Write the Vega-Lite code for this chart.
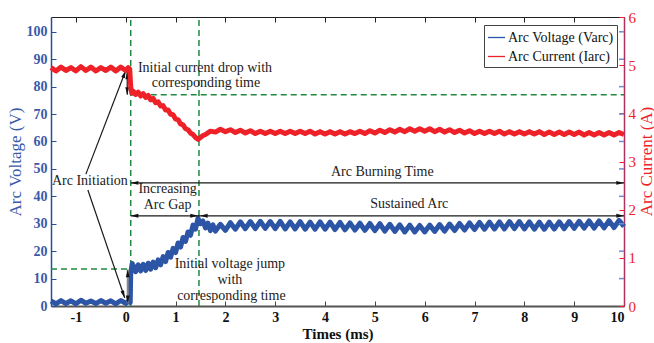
{
  "$schema": "https://vega.github.io/schema/vega-lite/v6.json",
  "width": 573,
  "height": 289,
  "autosize": {"type": "none"},
  "padding": {"left": 51, "top": 17, "right": 30, "bottom": 37},
  "background": "white",
  "config": {
    "view": {"stroke": null},
    "font": "Liberation Serif",
    "axis": {"grid": false, "labelFont": "Liberation Serif", "titleFont": "Liberation Serif", "titleFontWeight": "normal", "labelOverlap": false}
  },
  "datasets": {
    "volt": [
      {"t": -1.5, "v": 1.8}, {"t": -1.4, "v": 0.8}, {"t": -1.3, "v": 2.0}, {"t": -1.2, "v": 0.9}, {"t": -1.1, "v": 1.9}, {"t": -1.0, "v": 0.8},
      {"t": -0.9, "v": 2.1}, {"t": -0.8, "v": 1.0}, {"t": -0.7, "v": 1.8}, {"t": -0.6, "v": 0.9}, {"t": -0.5, "v": 2.0}, {"t": -0.4, "v": 1.0},
      {"t": -0.3, "v": 1.9}, {"t": -0.2, "v": 0.8}, {"t": -0.1, "v": 2.0}, {"t": 0.0, "v": 1.0}, {"t": 0.05, "v": 1.8}, {"t": 0.09, "v": 1.3},
      {"t": 0.1, "v": 12.0}, {"t": 0.13, "v": 15.5}, {"t": 0.2, "v": 12.5}, {"t": 0.25, "v": 15.0}, {"t": 0.3, "v": 12.8}, {"t": 0.35, "v": 15.2},
      {"t": 0.4, "v": 13.0}, {"t": 0.45, "v": 15.6}, {"t": 0.5, "v": 13.4}, {"t": 0.55, "v": 16.0}, {"t": 0.6, "v": 14.0}, {"t": 0.65, "v": 16.8},
      {"t": 0.7, "v": 15.0}, {"t": 0.75, "v": 18.0}, {"t": 0.8, "v": 16.2}, {"t": 0.85, "v": 19.5}, {"t": 0.9, "v": 17.8}, {"t": 0.95, "v": 21.0},
      {"t": 1.0, "v": 19.5}, {"t": 1.05, "v": 23.0}, {"t": 1.1, "v": 21.5}, {"t": 1.15, "v": 25.0}, {"t": 1.2, "v": 23.6}, {"t": 1.25, "v": 27.0},
      {"t": 1.3, "v": 25.8}, {"t": 1.35, "v": 29.5}, {"t": 1.4, "v": 28.0}, {"t": 1.45, "v": 32.0}, {"t": 1.5, "v": 30.0}, {"t": 1.55, "v": 31.0},
      {"t": 1.6, "v": 28.5}, {"t": 1.65, "v": 30.2}, {"t": 1.7, "v": 27.5}, {"t": 1.75, "v": 29.6}, {"t": 1.8, "v": 27.3}, {"t": 1.9, "v": 29.8},
      {"t": 2.0, "v": 27.6}, {"t": 2.1, "v": 30.4}, {"t": 2.2, "v": 28.0}, {"t": 2.3, "v": 30.7}, {"t": 2.4, "v": 28.2}, {"t": 2.5, "v": 30.8},
      {"t": 2.6, "v": 28.2}, {"t": 2.7, "v": 30.9}, {"t": 2.8, "v": 28.3}, {"t": 2.9, "v": 30.8}, {"t": 3.0, "v": 28.2}, {"t": 3.1, "v": 30.9},
      {"t": 3.2, "v": 28.1}, {"t": 3.3, "v": 30.7}, {"t": 3.4, "v": 28.1}, {"t": 3.5, "v": 30.8}, {"t": 3.6, "v": 28.0}, {"t": 3.7, "v": 30.6},
      {"t": 3.8, "v": 28.0}, {"t": 3.9, "v": 30.7}, {"t": 4.0, "v": 28.0}, {"t": 4.1, "v": 30.6}, {"t": 4.2, "v": 27.9}, {"t": 4.3, "v": 30.5},
      {"t": 4.4, "v": 27.8}, {"t": 4.5, "v": 30.3}, {"t": 4.6, "v": 27.7}, {"t": 4.7, "v": 30.2}, {"t": 4.8, "v": 27.6}, {"t": 4.9, "v": 30.1},
      {"t": 5.0, "v": 27.5}, {"t": 5.1, "v": 30.0}, {"t": 5.2, "v": 27.3}, {"t": 5.3, "v": 29.8}, {"t": 5.4, "v": 27.2}, {"t": 5.5, "v": 29.6},
      {"t": 5.6, "v": 27.0}, {"t": 5.7, "v": 29.5}, {"t": 5.8, "v": 27.0}, {"t": 5.9, "v": 29.4}, {"t": 6.0, "v": 27.0}, {"t": 6.1, "v": 29.5},
      {"t": 6.2, "v": 27.2}, {"t": 6.3, "v": 29.7}, {"t": 6.4, "v": 27.3}, {"t": 6.5, "v": 29.9}, {"t": 6.6, "v": 27.5}, {"t": 6.7, "v": 30.1},
      {"t": 6.8, "v": 27.7}, {"t": 6.9, "v": 30.3}, {"t": 7.0, "v": 27.9}, {"t": 7.1, "v": 30.5}, {"t": 7.2, "v": 28.0}, {"t": 7.3, "v": 30.6},
      {"t": 7.4, "v": 28.1}, {"t": 7.5, "v": 30.7}, {"t": 7.6, "v": 28.1}, {"t": 7.7, "v": 30.8}, {"t": 7.8, "v": 28.2}, {"t": 7.9, "v": 30.8},
      {"t": 8.0, "v": 28.1}, {"t": 8.1, "v": 30.7}, {"t": 8.2, "v": 28.0}, {"t": 8.3, "v": 30.6}, {"t": 8.4, "v": 28.0}, {"t": 8.5, "v": 30.6},
      {"t": 8.6, "v": 28.1}, {"t": 8.7, "v": 30.7}, {"t": 8.8, "v": 28.2}, {"t": 8.9, "v": 30.8}, {"t": 9.0, "v": 28.3}, {"t": 9.1, "v": 30.9},
      {"t": 9.2, "v": 28.4}, {"t": 9.3, "v": 31.0}, {"t": 9.4, "v": 28.4}, {"t": 9.5, "v": 31.0}, {"t": 9.6, "v": 28.5}, {"t": 9.7, "v": 31.1},
      {"t": 9.8, "v": 28.6}, {"t": 9.9, "v": 31.2}, {"t": 10.0, "v": 29.0}
    ],
    "curr": [
      {"t": -1.5, "i": 4.95}, {"t": -1.4, "i": 4.88}, {"t": -1.3, "i": 4.96}, {"t": -1.2, "i": 4.89}, {"t": -1.1, "i": 4.95}, {"t": -1.0, "i": 4.88},
      {"t": -0.9, "i": 4.97}, {"t": -0.8, "i": 4.89}, {"t": -0.7, "i": 4.96}, {"t": -0.6, "i": 4.88}, {"t": -0.5, "i": 4.95}, {"t": -0.4, "i": 4.89},
      {"t": -0.3, "i": 4.96}, {"t": -0.2, "i": 4.88}, {"t": -0.1, "i": 4.96}, {"t": 0.0, "i": 4.89}, {"t": 0.05, "i": 4.95}, {"t": 0.08, "i": 4.92},
      {"t": 0.1, "i": 4.55}, {"t": 0.12, "i": 4.42}, {"t": 0.15, "i": 4.46}, {"t": 0.2, "i": 4.39}, {"t": 0.25, "i": 4.44}, {"t": 0.3, "i": 4.36},
      {"t": 0.35, "i": 4.41}, {"t": 0.4, "i": 4.33}, {"t": 0.45, "i": 4.37}, {"t": 0.5, "i": 4.28}, {"t": 0.55, "i": 4.31}, {"t": 0.6, "i": 4.22},
      {"t": 0.65, "i": 4.24}, {"t": 0.7, "i": 4.15}, {"t": 0.75, "i": 4.16}, {"t": 0.8, "i": 4.07}, {"t": 0.85, "i": 4.07}, {"t": 0.9, "i": 3.98},
      {"t": 0.95, "i": 3.97}, {"t": 1.0, "i": 3.88}, {"t": 1.05, "i": 3.87}, {"t": 1.1, "i": 3.78}, {"t": 1.15, "i": 3.76}, {"t": 1.2, "i": 3.68},
      {"t": 1.25, "i": 3.66}, {"t": 1.3, "i": 3.59}, {"t": 1.35, "i": 3.56}, {"t": 1.4, "i": 3.5}, {"t": 1.45, "i": 3.46}, {"t": 1.5, "i": 3.5},
      {"t": 1.55, "i": 3.54}, {"t": 1.6, "i": 3.56}, {"t": 1.7, "i": 3.63}, {"t": 1.8, "i": 3.61}, {"t": 1.9, "i": 3.67}, {"t": 2.0, "i": 3.62},
      {"t": 2.1, "i": 3.66}, {"t": 2.2, "i": 3.6}, {"t": 2.3, "i": 3.65}, {"t": 2.4, "i": 3.59}, {"t": 2.5, "i": 3.64}, {"t": 2.6, "i": 3.58},
      {"t": 2.7, "i": 3.63}, {"t": 2.8, "i": 3.58}, {"t": 2.9, "i": 3.63}, {"t": 3.0, "i": 3.58}, {"t": 3.1, "i": 3.63}, {"t": 3.2, "i": 3.58},
      {"t": 3.3, "i": 3.63}, {"t": 3.4, "i": 3.58}, {"t": 3.5, "i": 3.63}, {"t": 3.6, "i": 3.58}, {"t": 3.7, "i": 3.63}, {"t": 3.8, "i": 3.57},
      {"t": 3.9, "i": 3.62}, {"t": 4.0, "i": 3.57}, {"t": 4.1, "i": 3.62}, {"t": 4.2, "i": 3.57}, {"t": 4.3, "i": 3.62}, {"t": 4.4, "i": 3.57},
      {"t": 4.5, "i": 3.62}, {"t": 4.6, "i": 3.58}, {"t": 4.7, "i": 3.63}, {"t": 4.8, "i": 3.58}, {"t": 4.9, "i": 3.64}, {"t": 5.0, "i": 3.59},
      {"t": 5.1, "i": 3.65}, {"t": 5.2, "i": 3.6}, {"t": 5.3, "i": 3.66}, {"t": 5.4, "i": 3.61}, {"t": 5.5, "i": 3.67}, {"t": 5.6, "i": 3.62},
      {"t": 5.7, "i": 3.68}, {"t": 5.8, "i": 3.63}, {"t": 5.9, "i": 3.68}, {"t": 6.0, "i": 3.63}, {"t": 6.1, "i": 3.68}, {"t": 6.2, "i": 3.62},
      {"t": 6.3, "i": 3.67}, {"t": 6.4, "i": 3.61}, {"t": 6.5, "i": 3.66}, {"t": 6.6, "i": 3.6}, {"t": 6.7, "i": 3.65}, {"t": 6.8, "i": 3.59},
      {"t": 6.9, "i": 3.64}, {"t": 7.0, "i": 3.58}, {"t": 7.1, "i": 3.63}, {"t": 7.2, "i": 3.58}, {"t": 7.3, "i": 3.63}, {"t": 7.4, "i": 3.58},
      {"t": 7.5, "i": 3.63}, {"t": 7.6, "i": 3.57}, {"t": 7.7, "i": 3.62}, {"t": 7.8, "i": 3.57}, {"t": 7.9, "i": 3.62}, {"t": 8.0, "i": 3.57},
      {"t": 8.1, "i": 3.62}, {"t": 8.2, "i": 3.57}, {"t": 8.3, "i": 3.62}, {"t": 8.4, "i": 3.56}, {"t": 8.5, "i": 3.61}, {"t": 8.6, "i": 3.56},
      {"t": 8.7, "i": 3.61}, {"t": 8.8, "i": 3.56}, {"t": 8.9, "i": 3.61}, {"t": 9.0, "i": 3.56}, {"t": 9.1, "i": 3.61}, {"t": 9.2, "i": 3.55},
      {"t": 9.3, "i": 3.6}, {"t": 9.4, "i": 3.55}, {"t": 9.5, "i": 3.6}, {"t": 9.6, "i": 3.55}, {"t": 9.7, "i": 3.6}, {"t": 9.8, "i": 3.55},
      {"t": 9.9, "i": 3.6}, {"t": 10.0, "i": 3.56}
    ],
    "guides": [
      {"t1": 0.1, "v1": 0, "t2": 0.1, "v2": 105.4},
      {"t1": 1.47, "v1": 0, "t2": 1.47, "v2": 105.4},
      {"t1": 0.1, "v1": 77, "t2": 10, "v2": 77},
      {"t1": -1.5, "v1": 13.5, "t2": 0.1, "v2": 13.5}
    ],
    "shafts": [
      {"t1": 0.1, "v1": 44.9, "t2": 10, "v2": 44.9},
      {"t1": 0.1, "v1": 32.9, "t2": 1.47, "v2": 32.9},
      {"t1": 1.47, "v1": 32.9, "t2": 10, "v2": 32.9},
      {"t1": 0.03, "v1": 85.5, "t2": 0.03, "v2": 77},
      {"t1": -0.8, "v1": 48.1, "t2": 0.0, "v2": 85.9},
      {"t1": -0.76, "v1": 42.3, "t2": -0.02, "v2": 2.9}
    ],
    "jump": [
      {"t1": 0.04, "v1": 13.3, "t2": 0.04, "v2": 1.0}
    ],
    "heads": [
      {"t": 0.1, "v": 44.9, "dir": "left"},
      {"t": 10, "v": 44.9, "dir": "right"},
      {"t": 0.1, "v": 32.9, "dir": "left"},
      {"t": 1.45, "v": 32.9, "dir": "right"},
      {"t": 1.49, "v": 32.9, "dir": "left"},
      {"t": 10, "v": 32.9, "dir": "right"},
      {"t": 0.03, "v": 85.5, "dir": "up"},
      {"t": 0.03, "v": 77, "dir": "down"},
      {"t": 0.04, "v": 13.3, "dir": "up"},
      {"t": 0.04, "v": 1.0, "dir": "down"},
      {"t": 0.0, "v": 85.9, "dir": "ne"},
      {"t": -0.02, "v": 2.9, "dir": "ssw"}
    ],
    "notes": [
      {"t": 1.59, "v": 86.8, "text": "Initial current drop with"},
      {"t": 1.61, "v": 81.2, "text": "corresponding time"},
      {"t": -0.72, "v": 45.6, "text": "Arc Initiation"},
      {"t": 0.84, "v": 42.5, "text": "Increasing"},
      {"t": 0.84, "v": 36.9, "text": "Arc Gap"},
      {"t": 5.15, "v": 49.0, "text": "Arc Burning Time"},
      {"t": 5.69, "v": 37.2, "text": "Sustained Arc"},
      {"t": 2.09, "v": 15.2, "text": "Initial voltage jump"},
      {"t": 2.09, "v": 9.5, "text": "with"},
      {"t": 2.12, "v": 3.6, "text": "corresponding time"}
    ],
    "vticks": [
      {"v": 10}, {"v": 20}, {"v": 30}, {"v": 40}, {"v": 50}, {"v": 60}, {"v": 70}, {"v": 80}, {"v": 90}, {"v": 100}
    ]
  },
  "layer": [
    {
      "layer": [
        {
          "data": {"name": "guides"},
          "mark": {"type": "rule", "color": "#1F8A3E", "strokeWidth": 1.5, "strokeDash": [6, 4]},
          "encoding": {
            "x": {"field": "t1", "type": "quantitative", "title": "Times (ms)"},
            "x2": {"field": "t2"},
            "y": {"field": "v1", "type": "quantitative", "title": "Arc Voltage (V)"},
            "y2": {"field": "v2"}
          }
        },
        {
          "data": {"name": "volt"},
          "mark": {"type": "line", "strokeWidth": 5, "strokeJoin": "round"},
          "encoding": {
            "x": {
              "field": "t", "type": "quantitative", "title": "Times (ms)",
              "scale": {"domain": [-1.5, 10], "nice": false, "zero": false},
              "axis": {
                "orient": "bottom", "values": [-1, 0, 1, 2, 3, 4, 5, 6, 7, 8, 9, 10], "tickCount": 12,
                "labelExpr": "replace(datum.label, '\u2212', '-')", "labelOverlap": false,
                "tickSize": -5, "labelPadding": 9, "tickColor": "#444", "domainColor": "#555", "domainWidth": 2,
                "labelColor": "#111", "labelFontSize": 14, "labelFontWeight": "bold",
                "titleColor": "#111", "titleFontSize": 15, "titleFontWeight": "bold", "titlePadding": 2
              }
            },
            "y": {
              "field": "v", "type": "quantitative", "title": "Arc Voltage (V)",
              "scale": {"domain": [0, 105.4], "nice": false},
              "axis": {
                "orient": "left", "values": [0, 10, 20, 30, 40, 50, 60, 70, 80, 90, 100], "tickCount": 11,
                "labelOverlap": false, "labelBound": false, "labelSeparation": 0,
                "tickSize": -5, "labelPadding": 9, "tickColor": "#2B4C9B", "domainColor": "#2B4C9B", "domainWidth": 1.5,
                "labelColor": "#3A5AA8", "labelFontSize": 14, "labelFontWeight": "bold",
                "titleColor": "#3A5AA8", "titleFontSize": 17, "titlePadding": 2
              }
            },
            "color": {
              "datum": "Arc Voltage (Varc)", "type": "nominal",
              "scale": {"domain": ["Arc Voltage (Varc)", "Arc Current (Iarc)"], "range": ["#2D55A6", "#EE2129"]},
              "legend": {
                "orient": "none", "legendX": 433, "legendY": 8, "title": null, "direction": "vertical",
                "symbolType": "stroke", "symbolSize": 289, "symbolStrokeWidth": 1.3,
                "labelFont": "Liberation Serif", "labelFontSize": 14, "labelColor": "#111", "labelOffset": 2,
                "strokeColor": "#444", "fillColor": "white", "padding": 3, "rowPadding": 2
              }
            }
          }
        },
        {
          "data": {"name": "vticks"},
          "mark": {"type": "rule", "color": "#6F8CCB", "strokeWidth": 1.5},
          "encoding": {
            "x": {"datum": 9.9, "type": "quantitative", "title": "Times (ms)"},
            "x2": {"datum": 10},
            "y": {"field": "v", "type": "quantitative", "title": "Arc Voltage (V)"}
          }
        },
        {
          "data": {"name": "shafts"},
          "mark": {"type": "rule", "color": "#1A1A1A", "strokeWidth": 1.2},
          "encoding": {
            "x": {"field": "t1", "type": "quantitative", "title": "Times (ms)"},
            "x2": {"field": "t2"},
            "y": {"field": "v1", "type": "quantitative", "title": "Arc Voltage (V)"},
            "y2": {"field": "v2"}
          }
        },
        {
          "data": {"name": "jump"},
          "mark": {"type": "rule", "color": "#888888", "strokeWidth": 2},
          "encoding": {
            "x": {"field": "t1", "type": "quantitative", "title": "Times (ms)"},
            "x2": {"field": "t2"},
            "y": {"field": "v1", "type": "quantitative", "title": "Arc Voltage (V)"},
            "y2": {"field": "v2"}
          }
        },
        {
          "data": {"name": "heads"},
          "mark": {"type": "point", "filled": true, "color": "#111", "opacity": 1, "size": 120, "strokeWidth": 0},
          "encoding": {
            "x": {"field": "t", "type": "quantitative", "title": "Times (ms)"},
            "y": {"field": "v", "type": "quantitative", "title": "Arc Voltage (V)"},
            "shape": {
              "field": "dir", "type": "nominal", "legend": null,
              "scale": {
                "domain": ["up", "down", "left", "right", "ne", "ssw"],
                "range": [
                  "M0,0L-0.35,1.4L0.35,1.4Z",
                  "M0,0L-0.35,-1.4L0.35,-1.4Z",
                  "M0,0L1.4,-0.35L1.4,0.35Z",
                  "M0,0L-1.4,-0.35L-1.4,0.35Z",
                  "M0,0L-0.17,1.43L-0.83,1.18Z",
                  "M0,0L-0.12,-1.44L-0.78,-1.21Z"
                ]
              }
            }
          }
        },
        {
          "data": {"name": "notes"},
          "mark": {"type": "text", "font": "Liberation Serif", "fontSize": 14, "color": "#222", "align": "center", "baseline": "middle"},
          "encoding": {
            "x": {"field": "t", "type": "quantitative", "title": "Times (ms)"},
            "y": {"field": "v", "type": "quantitative", "title": "Arc Voltage (V)"},
            "text": {"field": "text"}
          }
        }
      ]
    },
    {
      "data": {"name": "curr"},
      "mark": {"type": "line", "strokeWidth": 5, "strokeJoin": "round"},
      "encoding": {
        "x": {
          "field": "t", "type": "quantitative", "title": "Times (ms)",
          "scale": {"domain": [-1.5, 10], "nice": false, "zero": false},
          "axis": {
            "orient": "top", "values": [-1, 0, 1, 2, 3, 4, 5, 6, 7, 8, 9, 10], "tickCount": 12, "labels": false, "title": null,
            "tickSize": -5, "tickColor": "#222", "domainColor": "#222", "domainWidth": 1.2
          }
        },
        "y": {
          "field": "i", "type": "quantitative", "title": "Arc Current (A)",
          "scale": {"domain": [0, 6], "nice": false},
          "axis": {
            "orient": "right", "values": [0, 1, 2, 3, 4, 5, 6], "labelOverlap": false,
            "tickSize": -5, "labelPadding": 9, "tickColor": "#EE2129", "domainColor": "#B03060", "domainWidth": 1.5,
            "labelColor": "#EE2129", "labelFontSize": 15, "labelFontWeight": "normal",
            "titleColor": "#EE2129", "titleFontSize": 17, "titleAngle": 270,
            "titleX": 22, "titleY": 144, "titleAlign": "center", "titleBaseline": "middle"
          }
        },
        "color": {"datum": "Arc Current (Iarc)", "type": "nominal"}
      }
    }
  ],
  "resolve": {"scale": {"y": "independent"}, "axis": {"x": "independent"}}
}
